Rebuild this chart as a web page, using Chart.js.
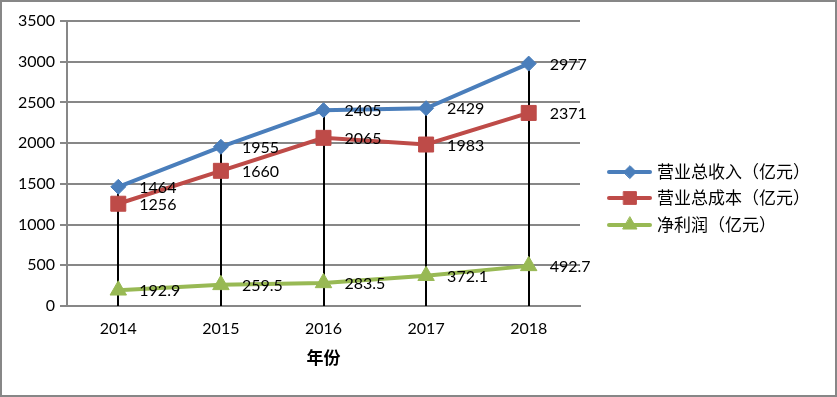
<!DOCTYPE html>
<html><head><meta charset="utf-8">
<script src="https://cdn.jsdelivr.net/npm/chart.js@4/dist/chart.umd.min.js"></script>
<style>html,body{margin:0;padding:0;background:#fff}canvas{display:block}</style>
</head><body>
<canvas id="c" width="837" height="397"></canvas>
<script>
const categories = ['2014','2015','2016','2017','2018'];
const revenue = [1464, 1955, 2405, 2429, 2977];
const cost = [1256, 1660, 2065, 1983, 2371];
const profit = [192.9, 259.5, 283.5, 372.1, 492.7];
const seriesNames = ['营业总收入（亿元）','营业总成本（亿元）','净利润（亿元）'];
const xTitle = '年份';

const NUM_FONT = '16px Lato, "Open Sans", sans-serif';
const CJK_FONT = '"Noto Sans CJK SC", sans-serif';

const colors = ['#4A7EBB', '#BE4B48', '#98B954'];
const styles = ['rectRot', 'rect', 'triangle'];
const radii = [7.5, 10.6, 9.5];

const dropLines = {
  id: 'dropLines',
  beforeDatasetsDraw(chart) {
    const ctx = chart.ctx, y0 = chart.scales.y.getPixelForValue(0);
    const meta = chart.getDatasetMeta(0);
    ctx.save(); ctx.strokeStyle = '#000'; ctx.lineWidth = 2;
    meta.data.forEach(p => { ctx.beginPath(); ctx.moveTo(Math.round(p.x), p.y); ctx.lineTo(Math.round(p.x), y0); ctx.stroke(); });
    ctx.restore();
  }
};
const labelsPlugin = {
  id: 'labelsPlugin',
  afterDatasetsDraw(chart) {
    const ctx = chart.ctx;
    ctx.save(); ctx.fillStyle = '#000'; ctx.font = NUM_FONT; ctx.textBaseline = 'middle'; ctx.textAlign = 'left';
    chart.data.datasets.forEach((ds, i) => {
      chart.getDatasetMeta(i).data.forEach((p, j) => { ctx.fillText(String(ds.data[j]), p.x + 21, p.y + 1); });
    });
    ctx.restore();
  },
  afterDraw(chart) {
    const ctx = chart.ctx;
    ctx.save();
    const rows = [172, 198, 225];
    chart.data.datasets.forEach((ds, i) => {
      const y = rows[i];
      ctx.strokeStyle = colors[i]; ctx.lineWidth = 4; ctx.lineCap = 'round';
      ctx.beginPath(); ctx.moveTo(609, y); ctx.lineTo(650, y); ctx.stroke();
      ctx.fillStyle = colors[i]; ctx.strokeStyle = colors[i]; ctx.lineWidth = 1;
      Chart.helpers.drawPoint(ctx, {pointStyle: styles[i], radius: radii[i] * 0.85, rotation: 0, borderWidth: 1}, 630, y);
      ctx.fillStyle = '#000'; ctx.font = '17px ' + CJK_FONT; ctx.textBaseline = 'middle'; ctx.textAlign = 'left';
      ctx.fillText(seriesNames[i], 657, y);
    });
    ctx.strokeStyle = '#878787'; ctx.lineWidth = 2;
    ctx.strokeRect(1, 1, 835, 395);
    ctx.restore();
  }
};

const mk = (i, data) => ({
  label: seriesNames[i], data,
  borderColor: colors[i], backgroundColor: colors[i], borderWidth: 4,
  pointStyle: styles[i], pointRadius: radii[i], pointHoverRadius: radii[i],
  pointBackgroundColor: colors[i], pointBorderColor: colors[i], pointBorderWidth: 1,
  tension: 0, fill: false
});

new Chart(document.getElementById('c'), {
  type: 'line',
  data: { labels: categories, datasets: [mk(0, revenue), mk(1, cost), mk(2, profit)] },
  options: {
    responsive: false, animation: false, devicePixelRatio: 1,
    layout: { padding: { left: 0, right: 257, top: 21, bottom: 0 } },
    plugins: { legend: { display: false }, tooltip: { enabled: false } },
    scales: {
      x: {
        offset: true,
        grid: { display: false, drawTicks: false },
        border: { display: true, color: '#878787', width: 2 },
        ticks: { color: '#000', font: { family: 'Lato', size: 16 }, padding: 13, maxRotation: 0 },
        title: { display: true, text: xTitle, color: '#000', font: { family: 'Noto Sans CJK SC', size: 17, weight: 'bold' }, padding: { top: 4, bottom: 29 } },
        afterFit(s) { s.height = 91; }
      },
      y: {
        min: 0, max: 3500,
        grid: { color: '#878787', lineWidth: 2, tickLength: 7 },
        border: { display: true, color: '#878787', width: 2 },
        ticks: { stepSize: 500, color: '#000', font: { family: 'Lato', size: 16 }, padding: 5, callback: v => String(v) },
        afterFit(s) { s.width = 67; }
      }
    }
  },
  plugins: [dropLines, labelsPlugin]
});
</script>
</body></html>
